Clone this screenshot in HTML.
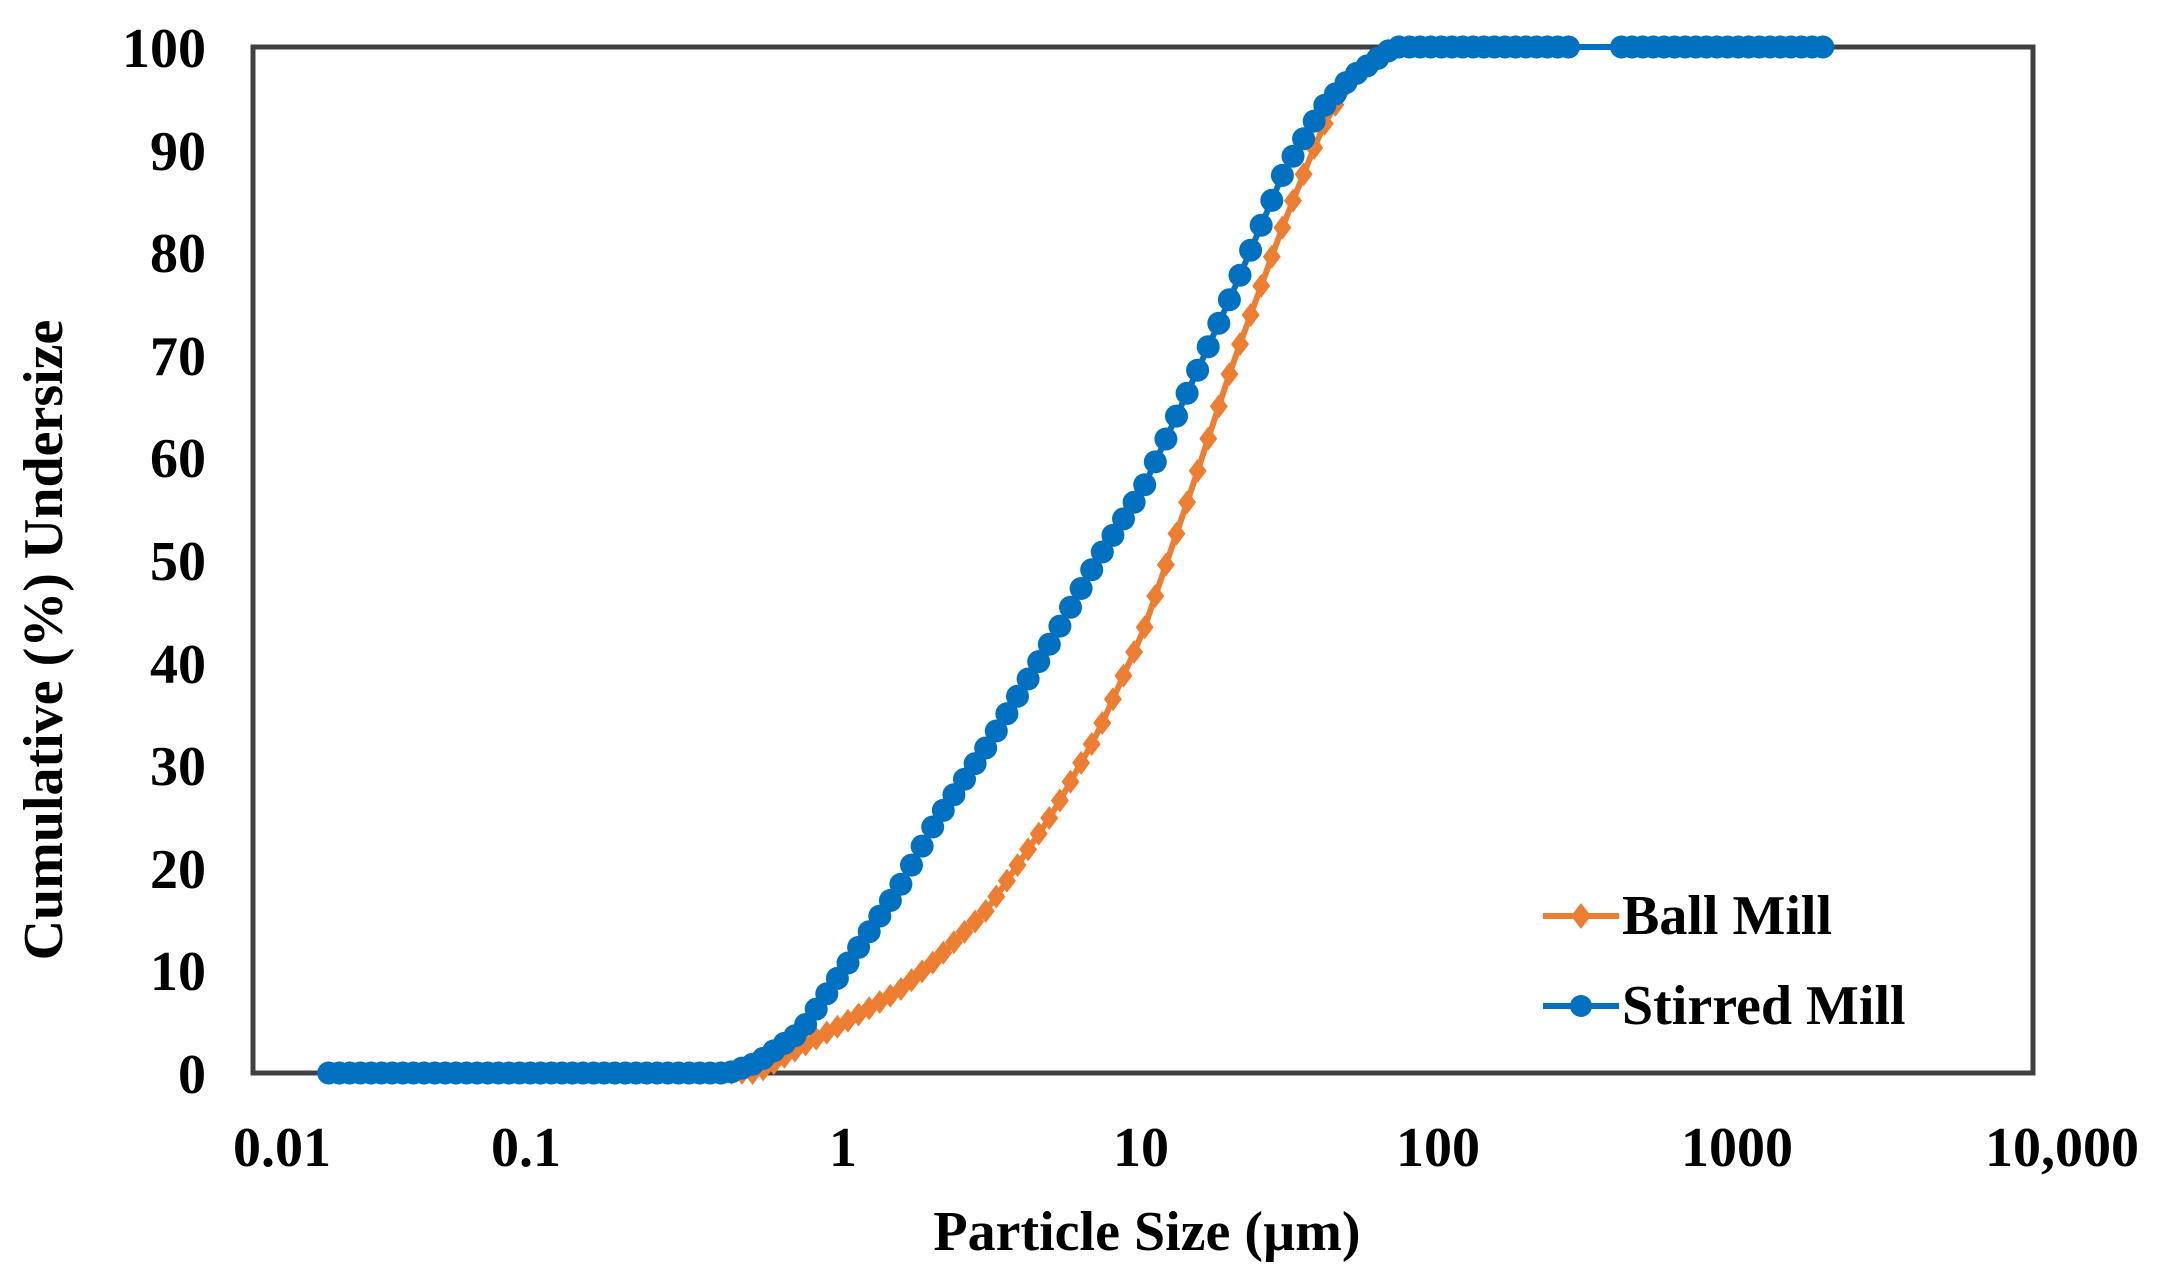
<!DOCTYPE html>
<html><head><meta charset="utf-8"><style>
html,body{margin:0;padding:0;background:#fff}
svg text{font-family:"Liberation Serif",serif;font-weight:bold;fill:#000}
</style></head><body>
<svg id="s" width="2160" height="1282" viewBox="0 0 2160 1282" xmlns="http://www.w3.org/2000/svg">
<rect x="253" y="47" width="1780" height="1026" fill="none" stroke="#404040" stroke-width="5"/>
<g font-size="56" text-anchor="end">
<text x="206" y="67">100</text><text x="206" y="170">90</text><text x="206" y="272">80</text>
<text x="206" y="375">70</text><text x="206" y="477">60</text><text x="206" y="580">50</text>
<text x="206" y="683">40</text><text x="206" y="785">30</text><text x="206" y="888">20</text>
<text x="206" y="990">10</text><text x="206" y="1093">0</text>
</g>
<g font-size="56" text-anchor="middle">
<text x="282" y="1166">0.01</text><text x="526" y="1166">0.1</text><text x="843" y="1166">1</text>
<text x="1141" y="1166">10</text><text x="1438" y="1166">100</text><text x="1737" y="1166">1000</text>
<text x="2062" y="1166">10,000</text>
</g>
<text x="1147" y="1250" font-size="56" text-anchor="middle">Particle Size (µm)</text>
<text transform="translate(62,640) rotate(-90)" font-size="56" text-anchor="middle">Cumulative (%) Undersize</text>
<g id="d"></g>
<line x1="1543" y1="916" x2="1619" y2="916" stroke="#ED7D31" stroke-width="6"/>
<path d="M1581 903 L1591 916 L1581 929 L1571 916Z" fill="#ED7D31"/>
<text x="1622" y="934" font-size="56">Ball Mill</text>
<line x1="1543" y1="1006" x2="1619" y2="1006" stroke="#0070C0" stroke-width="6"/>
<circle cx="1581" cy="1006" r="11" fill="#0070C0"/>
<text x="1622" y="1024" font-size="56">Stirred Mill</text>
</svg>
<script>
var X=function(v){return 253+(Math.log10(v)+2)*296.7};
var Y=function(p){return 1073-p*10.26};
function interp(tab,x){var lx=Math.log10(x);
 if(x<=tab[0][0])return tab[0][1];
 for(var i=1;i<tab.length;i++){if(x<=tab[i][0]){var a=Math.log10(tab[i-1][0]),b=Math.log10(tab[i][0]);var t=(lx-a)/(b-a);return tab[i-1][1]+t*(tab[i][1]-tab[i-1][1]);}}
 return 100;}
var blue=[[0.4,0],[0.5,1],[0.7,4],[1,10.5],[1.5,18],[2,24.5],[3,32],[5,42.5],[7,50],[10,57],[15,68],[20,76],[30,88],[40,94],[50,97],[70,100]];
var orng=[[0.5,0],[0.7,2.5],[1,5],[1.5,8],[2,11],[3,16],[5,25.5],[7,33],[10,43],[15,58],[20,69],[30,83],[40,92],[50,97],[70,100]];
var pts=[];for(var k=0;k<=200;k++){var v=0.018*Math.pow(10,k/28);if(v>2001)break;if(v>280&&v<380)continue;pts.push(v);}
var g=document.getElementById('d'),h='';
function series(tab,col,mk){var p='';pts.forEach(function(v,i){p+=(i?'L':'M')+X(v).toFixed(1)+' '+Y(interp(tab,v)).toFixed(1);});
 h+='<path d="'+p+'" fill="none" stroke="'+col+'" stroke-width="6"/>';
 pts.forEach(function(v){var x=X(v),y=Y(interp(tab,v));
  if(mk)h+='<circle cx="'+x.toFixed(1)+'" cy="'+y.toFixed(1)+'" r="11.5" fill="'+col+'"/>';
  else h+='<path d="M'+x+' '+(y-12)+' L'+(x+9)+' '+y+' L'+x+' '+(y+12)+' L'+(x-9)+' '+y+'Z" fill="'+col+'"/>';});}
series(orng,'#ED7D31',false);series(blue,'#0070C0',true);
g.innerHTML=h;
</script>
</body></html>
